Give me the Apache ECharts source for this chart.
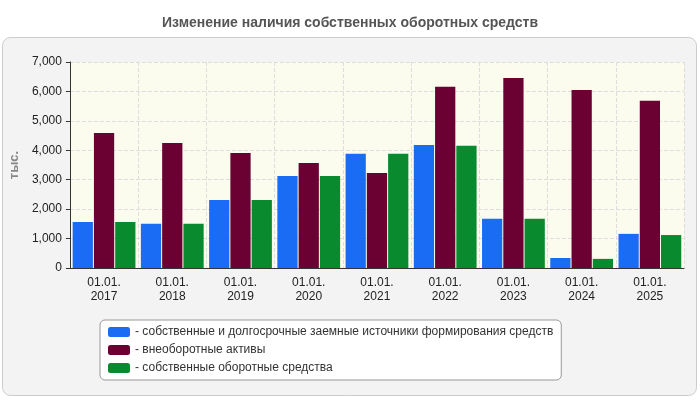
<!DOCTYPE html>
<html>
<head>
<meta charset="UTF-8">
<script src="https://cdn.jsdelivr.net/npm/echarts@6/dist/echarts.min.js"></script>
<style>
body{margin:0;background:#fff}
#chart{width:700px;height:400px}
</style>
</head>
<body>
<div id="chart"></div>
<script>
const categories = ['01.01.\n2017','01.01.\n2018','01.01.\n2019','01.01.\n2020','01.01.\n2021','01.01.\n2022','01.01.\n2023','01.01.\n2024','01.01.\n2025'];
const ownLongTerm = [1560, 1500, 2310, 3130, 3880, 4180, 1670, 340, 1160];
const nonCurrent = [4590, 4250, 3910, 3570, 3230, 6160, 6460, 6050, 5680];
const ownWorking = [1560, 1500, 2310, 3130, 3880, 4150, 1670, 310, 1120];

const chart = echarts.init(document.getElementById('chart'));
const font = 'Arial, "Liberation Sans", sans-serif';
chart.setOption({
    animation: false,
    textStyle: {fontFamily: font},
    title: {
        text: 'Изменение наличия собственных оборотных средств',
        left: 'center', top: 11,
        textStyle: {fontSize: 14, fontWeight: 'bold', color: '#555', fontFamily: font}
    },
    graphic: [{
        type: 'rect', z: -10,
        shape: {x: 2.5, y: 37.5, width: 694, height: 358, r: 8},
        style: {fill: '#f3f3f3', stroke: '#ccc', lineWidth: 1}
    }],
    grid: {left: 68, right: 16, top: 62, bottom: 132, backgroundColor: '#fbfbee', show: true, borderWidth: 0},
    legend: {
        orient: 'vertical', left: 100, top: 320,
        width: 498, padding: [6, 8, 6, 8],
        backgroundColor: '#fff', borderColor: '#999', borderWidth: 1, borderRadius: 5,
        itemWidth: 22, itemHeight: 10, itemGap: 6,
        icon: 'roundRect',
        formatter: n => '- ' + n,
        textStyle: {fontSize: 12, color: '#333'},
        data: ['собственные и долгосрочные заемные источники формирования средств', 'внеоборотные активы', 'собственные оборотные средства']
    },
    xAxis: {
        type: 'category', data: categories,
        axisLine: {lineStyle: {color: '#333'}},
        axisTick: {show: false},
        splitLine: {show: true, lineStyle: {type: 'dashed', color: '#ddd'}},
        axisLabel: {color: '#222', fontSize: 12, lineHeight: 14, interval: 0}
    },
    yAxis: {
        type: 'value', min: 0, max: 7000, interval: 1000,
        name: 'тыс.', nameLocation: 'middle', nameGap: 48, nameRotate: 90,
        nameTextStyle: {color: '#888', fontWeight: 'bold', fontSize: 13},
        axisLine: {show: true, lineStyle: {color: '#333'}},
        axisTick: {show: true, length: 4},
        axisLabel: {color: '#222', fontSize: 12},
        splitLine: {lineStyle: {type: 'dashed', color: '#ddd'}}
    },
    series: [
        {name: 'собственные и долгосрочные заемные источники формирования средств', type: 'bar', data: ownLongTerm, itemStyle: {color: '#1a6cf5'}, barGap: '5%', barCategoryGap: '8%'},
        {name: 'внеоборотные активы', type: 'bar', data: nonCurrent, itemStyle: {color: '#6b0033'}},
        {name: 'собственные оборотные средства', type: 'bar', data: ownWorking, itemStyle: {color: '#0a8a2e'}}
    ]
});
</script>
</body>
</html>
